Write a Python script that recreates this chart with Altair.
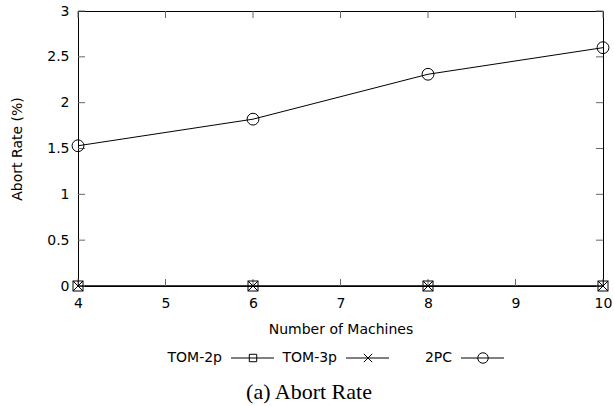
import altair as alt
import pandas as pd

machines = [4, 6, 8, 10]
tom2p = [0, 0, 0, 0]
tom3p = [0, 0, 0, 0]
pc2 = [1.53, 1.82, 2.31, 2.60]
series_names = ["TOM-2p", "TOM-3p", "2PC"]
x_ticks = [4, 5, 6, 7, 8, 9, 10]
y_ticks = [0, 0.5, 1, 1.5, 2, 2.5, 3]

W, H = 525, 275
FONT = "DejaVu Sans"
CROSS = "M-1,-1L1,1M1,-1L-1,1"

rows = []
for name, vals in zip(series_names, [tom2p, tom3p, pc2]):
    for m, v in zip(machines, vals):
        rows.append({"machines": m, "rate": v, "series": name})
df = pd.DataFrame(rows)

xs = alt.Scale(domain=[4, 10], nice=False, zero=False)
ys = alt.Scale(domain=[0, 3], nice=False)

base = alt.Chart(df)

xaxis = alt.Axis(values=x_ticks, title="Number of Machines", ticks=False, tickSize=0,
                 grid=False, labelPadding=10, titlePadding=12, domainColor="black",
                 labelFlush=False, labelOverlap=False, format="d",
                 labelFont=FONT, labelFontSize=14, labelColor="black", titleFont=FONT,
                 titleFontSize=14, titleFontWeight="normal", titleColor="black")
yaxis = alt.Axis(values=y_ticks, title="Abort Rate (%)", ticks=False, tickSize=0,
                 grid=False, labelPadding=9, titlePadding=22, domainColor="black",
                 labelFlush=False, labelOverlap=False, format="~g",
                 labelFont=FONT, labelFontSize=14, labelColor="black", titleFont=FONT,
                 titleFontSize=14, titleFontWeight="normal", titleColor="black")

lines = base.mark_line(color="black", strokeWidth=1).encode(
    x=alt.X("machines:Q", scale=xs, axis=xaxis),
    y=alt.Y("rate:Q", scale=ys, axis=yaxis),
    detail="series:N",
)

def pts(name, shape, size):
    return base.transform_filter(alt.datum.series == name).mark_point(
        shape=shape, size=size, filled=False, color="black", strokeWidth=1, opacity=1
    ).encode(x=alt.X("machines:Q", scale=xs, axis=xaxis), y=alt.Y("rate:Q", scale=ys, axis=yaxis))

p1 = pts("TOM-2p", "square", 100)
p2 = pts("TOM-3p", CROSS, 110)
p3 = pts("2PC", "circle", 140)

tick_col = "#666666"
ydf = pd.DataFrame({"rate": y_ticks})
xdf = pd.DataFrame({"machines": x_ticks})
tl = alt.Chart(ydf).mark_rule(color=tick_col, strokeWidth=1).encode(
    y=alt.Y("rate:Q", scale=ys, axis=yaxis), x=alt.value(0), x2=alt.value(7))
tr = alt.Chart(ydf).mark_rule(color=tick_col, strokeWidth=1).encode(
    y=alt.Y("rate:Q", scale=ys, axis=yaxis), x=alt.value(W - 7), x2=alt.value(W))
tb = alt.Chart(xdf).mark_rule(color=tick_col, strokeWidth=1).encode(
    x=alt.X("machines:Q", scale=xs, axis=xaxis), y=alt.value(H - 7), y2=alt.value(H))
tt = alt.Chart(xdf).mark_rule(color=tick_col, strokeWidth=1).encode(
    x=alt.X("machines:Q", scale=xs, axis=xaxis), y=alt.value(0), y2=alt.value(7))

# manual gnuplot-style key (label, then line sample with marker)
key = pd.DataFrame({
    "label": series_names,
    "tx": [144, 259, 374],
    "l0": [153, 268, 383],
    "l1": [196, 311, 426],
    "mx": [175, 290, 405],
    "shape": ["square", CROSS, "circle"],
    "size": [55, 70, 110],
})
KY = 347
ktext = alt.Chart(key).mark_text(align="right", baseline="middle", font=FONT, fontSize=14,
                                 color="black").encode(
    x=alt.X("tx:Q", scale=None), y=alt.value(KY), text="label:N")
kline = alt.Chart(key).mark_rule(color="black", strokeWidth=1).encode(
    x=alt.X("l0:Q", scale=None), x2="l1:Q", y=alt.value(KY))
kpts = alt.Chart(key).mark_point(filled=False, color="black", strokeWidth=1, opacity=1).encode(
    x=alt.X("mx:Q", scale=None), y=alt.value(KY),
    shape=alt.Shape("shape:N", scale=None, legend=None),
    size=alt.Size("size:Q", scale=None, legend=None))

caption = alt.Chart(pd.DataFrame({"t": ["(a) Abort Rate"]})).mark_text(
    align="center", baseline="middle", font="Liberation Serif", fontSize=22, color="black"
).encode(x=alt.value(231), y=alt.value(381), text="t:N")

chart = alt.layer(lines, tl, tr, tb, tt, p1, p2, p3, ktext, kline, kpts, caption).properties(
    width=W, height=H,
    background="white",
    autosize=alt.AutoSizeParams(type="none"),
    padding={"left": 78, "top": 11, "right": 11, "bottom": 120},
).configure_view(stroke="black", strokeWidth=1)

chart.save("out.html", embed_options={"renderer": "svg", "actions": False})
